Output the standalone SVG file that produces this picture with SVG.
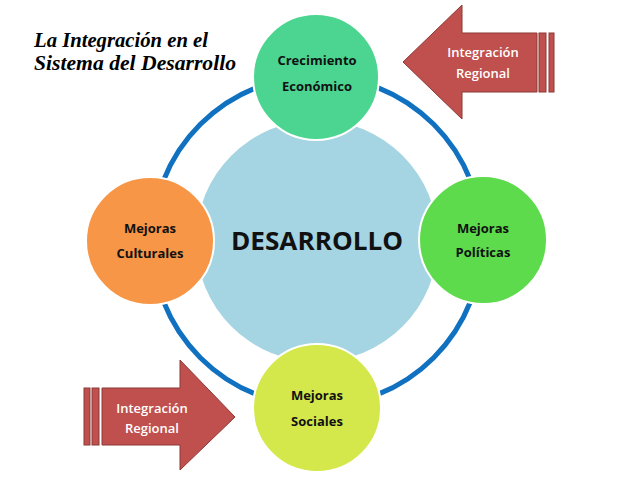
<svg xmlns="http://www.w3.org/2000/svg" width="638" height="479" viewBox="0 0 638 479">
<style>
.lbl{font-family:"Open Sans","Liberation Sans",sans-serif;font-weight:bold;font-size:13px;fill:#111;text-anchor:middle}
.arrowtxt{font-family:"Open Sans","Liberation Sans",sans-serif;font-weight:600;font-size:13px;fill:#fff;text-anchor:middle}
.arrow{fill:#C0504D;stroke:#8C3836;stroke-width:1}
.node{stroke:#fff;stroke-width:2}
.title{font-family:"Liberation Serif","DejaVu Serif",serif;font-style:italic;font-weight:bold;font-size:20px;fill:#000}
</style>
<rect width="638" height="479" fill="#fff"/>
<g id="connectors">
<circle cx="317" cy="241" r="165" fill="none" stroke="#1071C0" stroke-width="5"/>
</g>
<g id="center">
<circle cx="317" cy="241" r="121" fill="#A5D5E2"/>
<text x="317" y="250" font-family="Open Sans,Liberation Sans,sans-serif" font-weight="bold" font-size="25" fill="#111" text-anchor="middle" textLength="172" lengthAdjust="spacingAndGlyphs">DESARROLLO</text>
</g>
<g id="crecimiento">
<circle class="node" cx="316" cy="77" r="63" fill="#4BD591"/>
<text class="lbl" x="317" y="65">Crecimiento</text>
<text class="lbl" x="317" y="91">Económico</text>
</g>
<g id="politicas">
<circle class="node" cx="483" cy="240" r="64" fill="#5DDB4C"/>
<text class="lbl" x="483" y="233">Mejoras</text>
<text class="lbl" x="483" y="257">Políticas</text>
</g>
<g id="culturales">
<circle class="node" cx="150" cy="241" r="64" fill="#F79646"/>
<text class="lbl" x="150" y="233">Mejoras</text>
<text class="lbl" x="150" y="258">Culturales</text>
</g>
<g id="sociales">
<circle class="node" cx="317" cy="408" r="64" fill="#D4E84B"/>
<text class="lbl" x="317" y="400">Mejoras</text>
<text class="lbl" x="317" y="426">Sociales</text>
</g>
<g id="arrow-top">
<path class="arrow" d="M403,62 L462,5 L462,33 L537,33 L537,92 L462,92 L462,119 Z"/>
<rect class="arrow" x="539" y="33" width="7" height="59"/>
<rect class="arrow" x="549" y="33" width="5" height="59"/>
<text class="arrowtxt" x="483" y="57">Integración</text>
<text class="arrowtxt" x="483" y="78">Regional</text>
</g>
<g id="arrow-bottom">
<path class="arrow" d="M235,417 L180,360 L180,388 L102,388 L102,445 L180,445 L180,470 Z"/>
<rect class="arrow" x="84" y="388" width="6" height="57"/>
<rect class="arrow" x="92" y="388" width="7" height="57"/>
<text class="arrowtxt" x="152" y="413">Integración</text>
<text class="arrowtxt" x="152" y="433">Regional</text>
</g>
<g id="title">
<text class="title" x="34" y="47" textLength="174" lengthAdjust="spacingAndGlyphs">La Integración en el</text>
<text class="title" x="34" y="70" textLength="202" lengthAdjust="spacingAndGlyphs">Sistema del Desarrollo</text>
</g>
</svg>
